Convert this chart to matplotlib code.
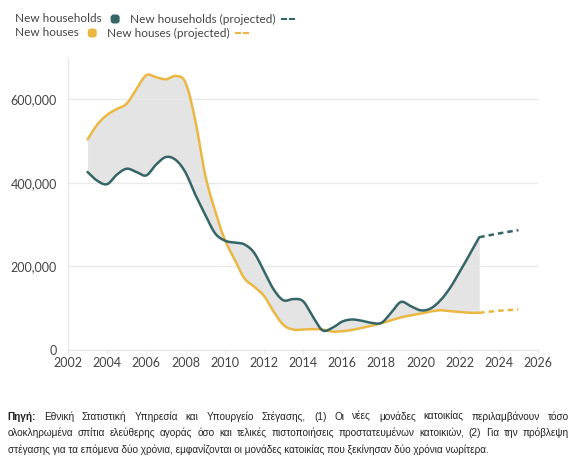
import numpy as np
import matplotlib
matplotlib.use("Agg")
import matplotlib.pyplot as plt
from matplotlib.patches import FancyBboxPatch
from matplotlib.lines import Line2D
from matplotlib.transforms import IdentityTransform

# half-year readings (thousands of units), 2003 .. 2023
years = np.arange(2003, 2023.01, 0.5)
households = [426, 405, 397, 420, 434, 426, 418, 444, 462, 455,
              425, 372, 325, 280, 262, 257, 253, 233, 190, 145,
              119, 122, 117, 80, 47, 53, 68, 73, 70, 65,
              65, 89, 115, 105, 95, 99, 118, 148, 187, 228, 270]
houses = [504, 540, 563, 577, 590, 625, 658, 653, 648, 656,
          640, 550, 420, 335, 265, 218, 172, 152, 130, 92,
          60, 49, 49, 50, 49, 44, 45, 48, 53, 58,
          64, 71, 78, 83, 87, 92, 95, 93, 91, 89, 89]

proj_years = [2023, 2024, 2025]
households_proj = [270, 279, 287]
houses_proj = [89, 94, 97]

x_ticks = list(range(2002, 2027, 2))
y_ticks = [0, 200000, 400000, 600000]
y_labels = ["0", "200,000", "400,000", "600,000"]

TEAL = "#356566"
YELLOW = "#ebb743"
FILL = "#e4e4e4"
GRID = "#e9e9e9"
TXT = "#444444"

W, H = 580, 466


# smooth line through the points (Catmull-Rom), only for drawing
def smooth(x, y, n=12):
    x = np.asarray(x, float)
    y = np.asarray(y, float)
    px = np.concatenate([[2 * x[0] - x[1]], x, [2 * x[-1] - x[-2]]])
    py = np.concatenate([[2 * y[0] - y[1]], y, [2 * y[-1] - y[-2]]])
    t = np.linspace(0, 1, n, endpoint=False)
    xs, ys = [], []
    for i in range(1, len(px) - 2):
        for p, out in ((px, xs), (py, ys)):
            p0, p1, p2, p3 = p[i - 1], p[i], p[i + 1], p[i + 2]
            out.extend(0.5 * (2 * p1 + (-p0 + p2) * t
                              + (2 * p0 - 5 * p1 + 4 * p2 - p3) * t ** 2
                              + (-p0 + 3 * p1 - 3 * p2 + p3) * t ** 3))
    xs.append(x[-1])
    ys.append(y[-1])
    return np.array(xs), np.array(ys)


plt.rcParams["font.family"] = ["Lato", "DejaVu Sans"]

fig = plt.figure(figsize=(W / 100, H / 100), dpi=100)
ax = fig.add_axes([68 / W, 1 - 350 / H, 470 / W, (350 - 57.6) / H])

hx, hy = smooth(years, np.array(households) * 1000)
sx, sy = smooth(years, np.array(houses) * 1000)
ax.fill_between(hx, hy, sy, color=FILL, lw=0, zorder=1)
ax.plot(sx, sy, color=YELLOW, lw=1.8, zorder=3, solid_capstyle="round")
ax.plot(hx, hy, color=TEAL, lw=1.8, zorder=4, solid_capstyle="round")
ax.plot(proj_years, np.array(houses_proj) * 1000, color=YELLOW, lw=1.8,
        ls=(0, (2.2, 1.6)), zorder=3)
ax.plot(proj_years, np.array(households_proj) * 1000, color=TEAL, lw=1.8,
        ls=(0, (2.2, 1.6)), zorder=4)

ax.set_xlim(2002, 2026)
ax.set_ylim(0, 700000)
ax.set_xticks(x_ticks)
ax.set_xticklabels([str(v) for v in x_ticks])
ax.set_yticks(y_ticks)
ax.set_yticklabels(y_labels)
ax.grid(axis="y", color=GRID, lw=1, zorder=0)
ax.tick_params(axis="x", length=3, color=GRID, labelsize=9, labelcolor=TXT, pad=2)
ax.tick_params(axis="y", length=0, labelsize=9, labelcolor=TXT, pad=8)
for side in ["top", "right"]:
    ax.spines[side].set_visible(False)
for side in ["left", "bottom"]:
    ax.spines[side].set_color(GRID)
    ax.spines[side].set_linewidth(1)

fig.canvas.draw()
r = fig.canvas.get_renderer()


def put(x, y, s, va="center", **kw):
    t = fig.text(x / W, 1 - y / H, s, va=va, ha="left", **kw)
    return t.get_window_extent(r).x1


def marker(x, y, color):
    fig.add_artist(FancyBboxPatch((x, H - y - 4.5), 9, 9,
                                  boxstyle="round,pad=0,rounding_size=3",
                                  transform=IdentityTransform(),
                                  fc=color, ec="none"))
    return x + 9


def dashes(x, y, color):
    for dx in (0, 8):
        fig.add_artist(Line2D([x + dx, x + dx + 3.5], [H - y, H - y], color=color,
                              lw=1.5, transform=IdentityTransform()))


# legend rows
for row_y, name, color in ((19, "New households", TEAL), (33, "New houses", YELLOW)):
    x = put(15, row_y, name, fontsize=8.5, color=TXT)
    x = marker(x + 9, row_y, color)
    x = put(x + 10, row_y, name + " (projected)", fontsize=8.5, color=TXT)
    dashes(x + 7, row_y, color)

# footer, justified like the source
lines = [
    "Πηγή: Εθνική Στατιστική Υπηρεσία και Υπουργείο Στέγασης, (1) Οι νέες μονάδες κατοικίας περιλαμβάνουν τόσο",
    "ολοκληρωμένα σπίτια ελεύθερης αγοράς όσο και τελικές πιστοποιήσεις προστατευμένων κατοικιών, (2) Για την πρόβλεψη",
    "στέγασης για τα επόμενα δύο χρόνια, εμφανίζονται οι μονάδες κατοικίας που ξεκίνησαν δύο χρόνια νωρίτερα.",
]
foot_kw = dict(fontsize=7.2, color="#222222", family=["Liberation Sans", "DejaVu Sans"])
left, right = 7.5, 569
for i, line in enumerate(lines):
    y = 419.5 + i * 16.5
    if i == len(lines) - 1:
        put(left, y, line, va="baseline", **foot_kw)
        continue
    words = line.split(" ")
    texts = []
    for j, w in enumerate(words):
        t = fig.text(0, 0, w, va="baseline", ha="left",
                     fontweight="bold" if (i == 0 and j == 0) else "normal", **foot_kw)
        texts.append(t)
    widths = [t.get_window_extent(r).width for t in texts]
    gap = (right - left - sum(widths)) / (len(words) - 1)
    x = left
    for t, wd in zip(texts, widths):
        t.set_position((x / W, 1 - y / H))
        x += wd + gap

fig.savefig("out.png", dpi=100)
